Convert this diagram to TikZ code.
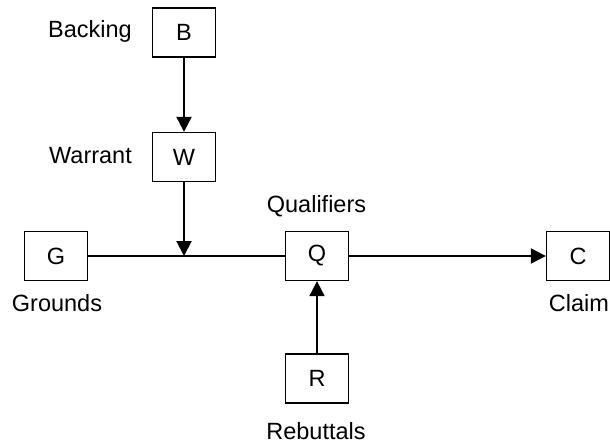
\documentclass[tikz,border=0pt]{standalone}
\usepackage{fontspec}
\setmainfont{Liberation Sans}
\usetikzlibrary{arrows.meta}
\begin{document}
\begin{tikzpicture}[x=1pt,y=-1pt,
  lbl/.style={font=\fontsize{23.5}{28}\selectfont, inner sep=0pt},
  box/.style={lbl, draw, line width=1.3pt, minimum width=63pt, minimum height=49pt},
  link/.style={line width=1.3pt},
  arr/.style={line width=2pt, -{Triangle[length=15pt,width=15pt]}}]
\useasboundingbox (0,0) rectangle (610,444);

% boxes of the argument model
\node[box] (B) at (184,32.5) {B};
\node[box] (W) at (184,157) {W};
\node[box] (G) at (56,256) {G};
\node[box] (Q) at (317,256) {Q};
\node[box] (C) at (578,256) {C};
\node[box] (R) at (317,378.5) {R};

% captions
\node[lbl] (lB) at (90,31) {Backing};
\node[lbl] (lW) at (90.5,156) {Warrant};
\node[lbl] (lQ) at (316.5,206) {Qualifiers};
\node[lbl] (lG) at (57,303) {Grounds};
\node[lbl] (lC) at (579,303) {Claim};
\node[lbl] (lR) at (316,431) {Rebuttals};

% connectors
\coordinate (J) at (W.south |- G.east);
\draw[link] (G.east) -- (Q.west);
\draw[arr] (B.south) -- (W.north);
\draw[arr] (W.south) -- (J);
\draw[arr] (Q.east) -- (C.west);
\draw[arr] (R.north) -- (Q.south);
\end{tikzpicture}
\end{document}
